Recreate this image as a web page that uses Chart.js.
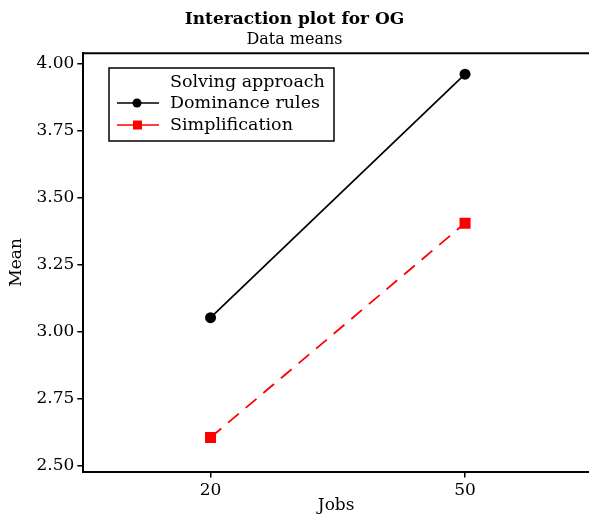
<!DOCTYPE html>
<html>
<head>
<meta charset="utf-8">
<script src="https://cdn.jsdelivr.net/npm/chart.js@4"></script>
<style>
html,body{margin:0;padding:0;background:#fff;overflow:hidden;}
#wrap{width:589px;height:516px;}
</style>
</head>
<body>
<div id="wrap"><canvas id="c" width="589" height="516"></canvas></div>
<script>
const jobs = ['20', '50'];
const dominance = [3.053, 3.962];
const simplification = [2.606, 3.406];
const yTicks = [2.50, 2.75, 3.00, 3.25, 3.50, 3.75, 4.00];
const legendTitle = 'Solving approach';

const FONT = 'DejaVu Serif';

const topBorder = {
  id: 'topBorder',
  afterDraw(chart) {
    const {ctx, chartArea} = chart;
    ctx.save();
    ctx.strokeStyle = '#000';
    ctx.lineWidth = 2;
    ctx.beginPath();
    ctx.moveTo(chartArea.left - 1, chartArea.top);
    ctx.lineTo(chart.width, chartArea.top);
    ctx.stroke();
    ctx.restore();
  }
};

const boxLegend = {
  id: 'boxLegend',
  afterDraw(chart) {
    const {ctx} = chart;
    const x0 = 109, y0 = 68, w = 225, h = 73;
    ctx.save();
    ctx.fillStyle = '#fff';
    ctx.fillRect(x0, y0, w, h);
    ctx.strokeStyle = '#000';
    ctx.lineWidth = 1.5;
    ctx.strokeRect(x0, y0, w, h);
    ctx.font = '17.5px "' + FONT + '"';
    ctx.fillStyle = '#000';
    ctx.textBaseline = 'middle';
    ctx.textAlign = 'left';
    ctx.fillText(legendTitle, 170, 82);
    const rows = [103, 125];
    chart.data.datasets.forEach((ds, i) => {
      const y = rows[i];
      ctx.strokeStyle = ds.borderColor;
      ctx.lineWidth = 1.5;
      ctx.setLineDash([]);
      ctx.beginPath();
      ctx.moveTo(117, y);
      ctx.lineTo(159, y);
      ctx.stroke();
      ctx.fillStyle = ds.pointBackgroundColor;
      if (ds.pointStyle === 'circle') {
        ctx.beginPath();
        ctx.arc(137, y, 4.5, 0, Math.PI * 2);
        ctx.fill();
      } else {
        ctx.fillRect(133, y - 4.5, 9, 9);
      }
      ctx.fillStyle = '#000';
      ctx.fillText(ds.label, 170, y);
    });
    ctx.restore();
  }
};

new Chart(document.getElementById('c'), {
  type: 'line',
  data: {
    datasets: [
      {
        label: 'Dominance rules',
        data: dominance.map((v, i) => ({x: i, y: v})),
        borderColor: '#000',
        backgroundColor: '#000',
        pointBackgroundColor: '#000',
        pointBorderColor: '#000',
        borderWidth: 1.7,
        pointStyle: 'circle',
        pointRadius: 5.5,
        pointBorderWidth: 0
      },
      {
        label: 'Simplification',
        data: simplification.map((v, i) => ({x: i, y: v})),
        borderColor: '#ff0000',
        backgroundColor: '#ff0000',
        pointBackgroundColor: '#ff0000',
        pointBorderColor: '#ff0000',
        borderWidth: 1.8,
        borderDash: [14, 9],
        pointStyle: 'rect',
        pointRadius: 7.8,
        pointBorderWidth: 0
      }
    ]
  },
  options: {
    responsive: false,
    animation: false,
    devicePixelRatio: 1,
    layout: {autoPadding: false, padding: {left: 0, right: 0, top: 0, bottom: 0}},
    plugins: {
      legend: {display: false},
      tooltip: {enabled: false},
      title: {
        display: true,
        text: 'Interaction plot for OG',
        color: '#000',
        font: {family: FONT, size: 17, weight: 'bold', lineHeight: 1.2},
        padding: {top: 9, bottom: 1}
      },
      subtitle: {
        display: true,
        text: 'Data means',
        color: '#000',
        font: {family: FONT, size: 16, lineHeight: 1.2},
        padding: {top: 0, bottom: 3.7}
      }
    },
    scales: {
      x: {
        type: 'linear',
        min: -0.5,
        max: 1.487,
        afterBuildTicks(scale) { scale.ticks = jobs.map((_, i) => ({value: i})); },
        afterFit(scale) { scale.height = 44.5; scale.paddingLeft = 0; scale.paddingRight = 0; },
        ticks: {
          color: '#000',
          font: {family: FONT, size: 17},
          padding: 3,
          maxRotation: 0,
          callback: (v) => jobs[v]
        },
        grid: {drawOnChartArea: false, drawTicks: true, tickLength: 6, color: '#000', lineWidth: 1.5},
        border: {display: true, color: '#000', width: 2},
        title: {
          display: true,
          text: 'Jobs',
          color: '#000',
          font: {family: FONT, size: 17},
          padding: {top: 0, bottom: 0}
        }
      },
      y: {
        type: 'linear',
        min: 2.479,
        max: 4.040,
        afterBuildTicks(scale) { scale.ticks = yTicks.map(v => ({value: v})); },
        afterFit(scale) { scale.width = 83.3; scale.paddingTop = 0; scale.paddingBottom = 0; },
        ticks: {
          color: '#000',
          font: {family: FONT, size: 17},
          padding: 3,
          callback: (v) => Number(v).toFixed(2)
        },
        grid: {drawOnChartArea: false, drawTicks: true, tickLength: 6, color: '#000', lineWidth: 1.5},
        border: {display: true, color: '#000', width: 2},
        title: {
          display: true,
          text: 'Mean',
          color: '#000',
          font: {family: FONT, size: 17},
          padding: {top: 6, bottom: 0}
        }
      }
    }
  },
  plugins: [topBorder, boxLegend]
});
</script>
</body>
</html>
